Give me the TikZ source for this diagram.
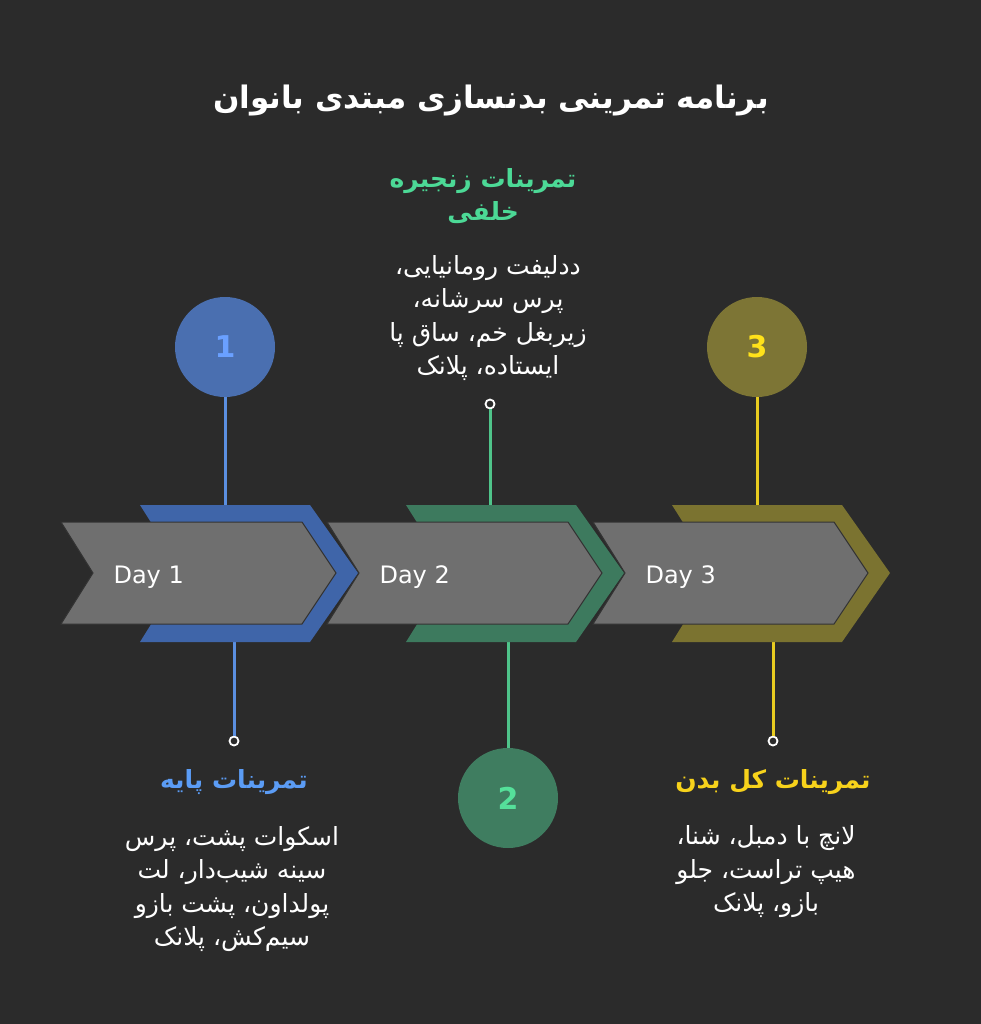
\documentclass[tikz,border=0pt]{standalone}
\usepackage{fontspec}
\setmainfont{DejaVu Sans}
\newfontfamily\arabicfont[Script=Arabic]{DejaVu Sans}
\TeXXeTstate=1
\usetikzlibrary{positioning}

\definecolor{bgc}{HTML}{2B2B2B}
\definecolor{grayc}{HTML}{6F6F6F}
\definecolor{blu}{HTML}{3F65A9}
\definecolor{grn}{HTML}{3D7A5E}
\definecolor{oliv}{HTML}{7B7330}
\definecolor{blucirc}{HTML}{4A6FB0}
\definecolor{grncirc}{HTML}{3F7D60}
\definecolor{olivcirc}{HTML}{7D7535}
\definecolor{bluline}{HTML}{5B8FE0}
\definecolor{grnline}{HTML}{4FC48A}
\definecolor{yelline}{HTML}{E8CC20}
\definecolor{bluhead}{HTML}{5B9CF5}
\definecolor{grnhead}{HTML}{4CD996}
\definecolor{yelhead}{HTML}{F7D21B}
\definecolor{blunum}{HTML}{6AA0FF}
\definecolor{grnnum}{HTML}{55E09A}
\definecolor{yelnum}{HTML}{FFE21A}

\begin{document}
\begin{tikzpicture}[x=1pt,y=-1pt]

\tikzstyle{arrowbody}=[fill=grayc,draw=black!80,line width=1pt]
\tikzstyle{ring}=[circle,outer sep=0pt,inner sep=0pt,minimum size=100pt,font=\bfseries\fontsize{30}{34}\selectfont]
\tikzstyle{dot}=[circle,draw=white!80,fill=bgc,line width=1.8pt,inner sep=0pt,minimum size=9pt]
\tikzstyle{stem}=[line width=3pt]
\tikzstyle{title}=[text=white,font=\arabicfont\bfseries\fontsize{31}{36}\selectfont]
\tikzstyle{head}=[align=center,font=\arabicfont\bfseries\fontsize{25}{33}\selectfont]
\tikzstyle{body}=[align=center,text=white,font=\arabicfont\fontsize{25}{33.5}\selectfont]

\fill[bgc] (0,0) rectangle (981,1024);

%circles and small dots
\node (c1) [ring,fill=blucirc,text=blunum] at (225,347) {1};
\node (c2) [ring,fill=grncirc,text=grnnum] at (508,798) {2};
\node (c3) [ring,fill=olivcirc,text=yelnum] at (757,347) {3};
\node (d1) [dot] at (234,741) {};
\node (d2) [dot] at (490,404) {};
\node (d3) [dot] at (773,741) {};

\coordinate (t1) at (225,507);
\coordinate (b1) at (234,640);
\coordinate (t2) at (490,507);
\coordinate (b2) at (508,640);
\coordinate (t3) at (757,507);
\coordinate (b3) at (773,640);

\draw[stem,bluline] (c1) -- (t1);
\draw[stem,bluline] (b1) -- (d1);
\draw[stem,grnline] (d2) -- (t2);
\draw[stem,grnline] (b2) -- (c2);
\draw[stem,yelline] (c3) -- (t3);
\draw[stem,yelline] (b3) -- (d3);

%arrows, right one first so each frame covers the next body
\foreach \i/\col/\n in {2/oliv/3,1/grn/2,0/blu/1}{
  \begin{scope}[xshift=\i*266pt]
    \fill[\col] (140,505) -- (310,505) -- (358,573) -- (310,642) -- (140,642) -- (183,573) -- cycle;
    \draw[arrowbody] (61,522) -- (302,522) -- (336,573) -- (302,624) -- (61,624) -- (93,573) -- cycle;
    \node (day\n) [anchor=west,text=white,font=\fontsize{24}{28}\selectfont] at (110,577) {Day \n};
  \end{scope}
}

%texts
\node (title) [title] at (491,101) {\beginR برنامه تمرینی بدنسازی مبتدی بانوان\endR};

\node (head2) [head,text=grnhead] at (483,196) {\beginR تمرینات زنجیره\endR\\\beginR خلفی\endR};
\node (body2) [body] at (488,318) {\beginR ددلیفت رومانیایی،\endR\\\beginR پرس سرشانه،\endR\\\beginR زیربغل خم، ساق پا\endR\\\beginR ایستاده، پلانک\endR};

\node (head1) [head,text=bluhead] at (234,782) {\beginR تمرینات پایه\endR};
\node (body1) [body] at (232,889) {\beginR اسکوات پشت، پرس\endR\\\beginR سینه شیب‌دار، لت\endR\\\beginR پولداون، پشت بازو\endR\\\beginR سیم‌کش، پلانک\endR};

\node (head3) [head,text=yelhead] at (773,782) {\beginR تمرینات کل بدن\endR};
\node (body3) [body] at (766,872) {\beginR لانچ با دمبل، شنا،\endR\\\beginR هیپ تراست، جلو\endR\\\beginR بازو، پلانک\endR};

\end{tikzpicture}
\end{document}
